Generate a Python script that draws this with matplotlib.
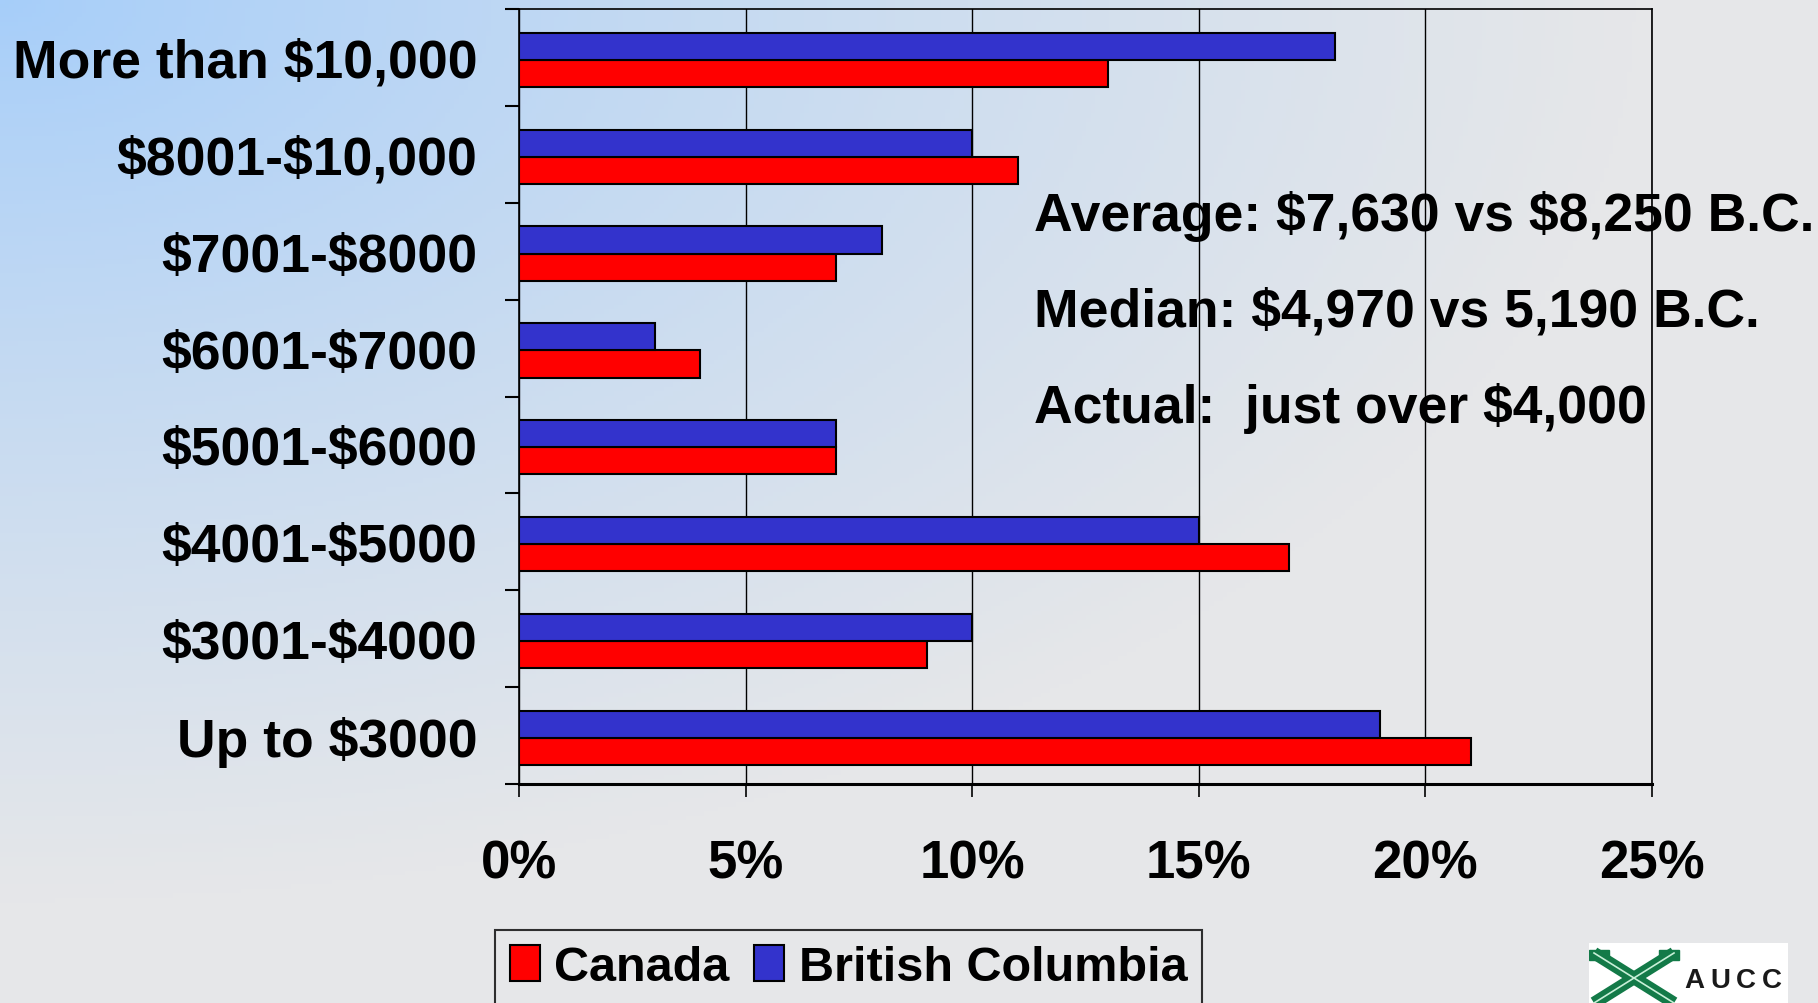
import numpy as np
import matplotlib
matplotlib.use('Agg')
import matplotlib.pyplot as plt
from matplotlib.colors import to_rgb
from matplotlib.patches import Rectangle

plt.rcParams['font.family'] = ['Liberation Sans', 'DejaVu Sans']
plt.rcParams['font.weight'] = 'bold'
plt.rcParams['text.parse_math'] = False

categories = ['Up to $3000', '$3001-$4000', '$4001-$5000', '$5001-$6000',
              '$6001-$7000', '$7001-$8000', '$8001-$10,000', 'More than $10,000']
canada = [21, 9, 17, 7, 4, 7, 11, 13]
bc = [19, 10, 15, 7, 3, 8, 10, 18]
xticks = [0, 5, 10, 15, 20, 25]
notes = ['Average: $7,630 vs $8,250 B.C.',
         'Median: $4,970 vs 5,190 B.C.',
         'Actual:  just over $4,000']

W, H = 1818, 1004
fig = plt.figure(figsize=(W / 100, H / 100), dpi=100)

# background gradient, light blue top-left fading to grey
bg = fig.add_axes([0, 0, 1, 1], zorder=-10)
xx, yy = np.meshgrid(np.linspace(0, 1, 400), np.linspace(0, 1, 220))
d = np.clip(np.sqrt(xx**2 + yy**2) / 0.9, 0, 1) ** 0.85
c0 = np.array(to_rgb('#a6cefa'))
c1 = np.array(to_rgb('#e6e7e9'))
img = c0[None, None, :] * (1 - d[..., None]) + c1[None, None, :] * d[..., None]
bg.imshow(img, aspect='auto', extent=[0, 1, 0, 1], origin='upper')
bg.axis('off')

ax = fig.add_axes([519 / W, 1 - 785 / H, (1652 - 519) / W, (785 - 10) / H])
ax.set_facecolor('none')
y = np.arange(len(categories))
h = 0.28
off = -0.025
ax.barh(y - h / 2 + off, canada, height=h, color='#ff0000', edgecolor='black', linewidth=1.5, zorder=3, label='Canada')
ax.barh(y + h / 2 + off, bc, height=h, color='#3333cc', edgecolor='black', linewidth=1.5, zorder=3, label='British Columbia')

ax.set_xlim(0, 25)
ax.set_ylim(-0.5, len(categories) - 0.5)
ax.set_xticks(xticks)
ax.set_xticklabels([f'{t}%' for t in xticks], fontsize=38, fontweight='bold')
ax.set_yticks(y)
ax.set_yticklabels(categories, fontsize=38.5, fontweight='bold')
ax.set_yticks(np.arange(len(categories) + 1) - 0.5, minor=True)
ax.tick_params(axis='y', which='major', length=0, pad=30)
ax.tick_params(axis='y', which='minor', length=10, width=1.5, direction='out')
ax.tick_params(axis='x', length=9.5, width=1.2, direction='out', pad=30)
ax.xaxis.grid(True, color='black', linewidth=1.0, zorder=1)
ax.set_axisbelow(True)
for s in ['top', 'right', 'left']:
    ax.spines[s].set_linewidth(1.2)
ax.spines['bottom'].set_linewidth(2.2)

for i, t in enumerate(notes):
    fig.text(1034 / W, 1 - (217 + 95.5 * i) / H, t, fontsize=38.5, fontweight='bold',
             va='center', ha='left')

handles, labels = ax.get_legend_handles_labels()
leg = fig.legend(handles, labels, loc='upper left',
                 bbox_to_anchor=(495 / W, 1 - 931 / H), ncol=2, fontsize=35,
                 frameon=True, fancybox=False, handlelength=0.62, handleheight=0.78,
                 handletextpad=0.3, columnspacing=0.5, borderpad=0.3, borderaxespad=0)
leg.get_frame().set_edgecolor('black')
leg.get_frame().set_linewidth(1.5)
leg.get_frame().set_facecolor('none')

# AUCC logo, bottom right
logo = fig.add_axes([1589 / W, 0, (1788 - 1589) / W, (1004 - 944) / H])
logo.set_xlim(0, 199)
logo.set_ylim(60, 0)
logo.add_patch(Rectangle((0, 0), 199, 60, color='white'))
logo.plot([5, 85], [10, 60], color='#137a48', linewidth=9, solid_capstyle='butt')
logo.plot([85, 5], [10, 60], color='#137a48', linewidth=9, solid_capstyle='butt')
logo.plot([5, 85], [10, 60], color='#c8f0d8', linewidth=1.2)
logo.plot([85, 5], [10, 60], color='#c8f0d8', linewidth=1.2)
logo.add_patch(Rectangle((0, 7), 20, 10, color='#137a48'))
logo.add_patch(Rectangle((70, 7), 20, 10, color='#137a48'))
for i, ch in enumerate('AUCC'):
    logo.text(95 + i * 26, 37, ch, fontsize=20, fontweight='bold', color='#1a1a1a',
              ha='left', va='center')
logo.axis('off')

fig.savefig('out.png', dpi=100)
